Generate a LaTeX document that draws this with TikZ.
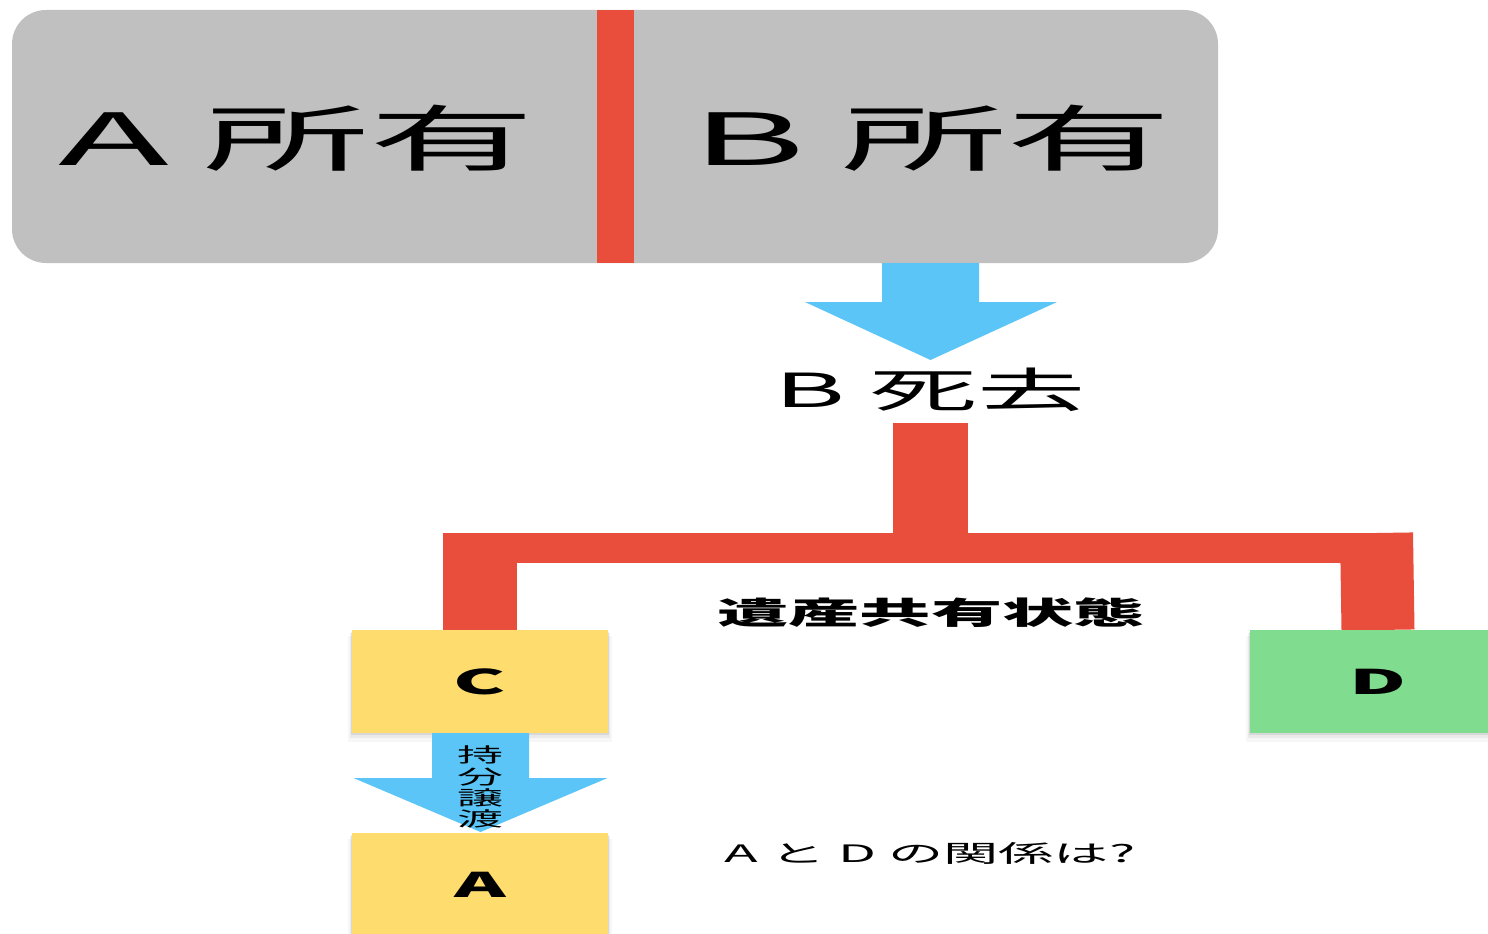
\documentclass[tikz,border=0pt]{standalone}
\usepackage{fontspec}
\newfontfamily\jp[FakeStretch=2.3]{Noto Sans CJK JP}
\usetikzlibrary{calc,shadows}
\definecolor{rd}{HTML}{E94E3D}
\definecolor{gy}{HTML}{C0C0C0}
\definecolor{bl}{HTML}{5BC5F7}
\definecolor{yl}{HTML}{FEDC6D}
\definecolor{gn}{HTML}{80DC8F}
\begin{document}
\begin{tikzpicture}[x=1pt,y=-1pt,
  every node/.style={inner sep=0pt,outer sep=0pt},
  txt/.style={font=\jp\fontsize{#1}{#1}\selectfont},
  softshadow/.style={
    drop shadow={shadow xshift=0pt,shadow yshift=-2pt,shadow scale=1.005,opacity=0.07,fill=black},
    drop shadow={shadow xshift=0pt,shadow yshift=-4pt,shadow scale=1.015,opacity=0.05,fill=black},
    drop shadow={shadow xshift=0pt,shadow yshift=-7pt,shadow scale=1.03,opacity=0.03,fill=black}},
  person/.style={minimum width=256pt,minimum height=103pt,softshadow,
    font=\jp\bfseries\fontsize{34}{34}\selectfont},
  redline/.style={draw=rd,line width=#1},
  blockarrow/.style={fill=bl}]
\clip (0,0) rectangle (1488,934);
\fill[white] (0,0) rectangle (1488,934);
% top box
\node[fill=gy,rounded corners=34pt,minimum width=1206pt,minimum height=253pt] (top) at (615,136.5) {};
\node[fill=rd,minimum width=37pt,minimum height=253pt] (div) at (615.5,136.5) {};
\node[txt=72] (aown) at (297,138) {\scalebox{1.1}[1]{A}\hspace{-3pt} 所有};
\node[txt=72] (bown) at (932,138) {\scalebox{1.05}[1]{B}\hspace{-2pt} 所有};
% blue arrow 1
\coordinate (a1) at (930.5,263);
\fill[blockarrow] ($(a1)+(-48.5,0)$) -- ($(a1)+(48.5,0)$) -- ($(a1)+(48.5,39)$) -- ($(a1)+(126.5,39)$)
  -- ($(a1)+(0,97)$) -- ($(a1)+(-125.5,39)$) -- ($(a1)+(-48.5,39)$) -- cycle;
\node[txt=47] (death) at (930,390) {B 死去};
% red tree
\coordinate (trunk) at (930.5,423);
\coordinate (fork) at (930.5,548);
\coordinate (lbar) at (443,548);
\coordinate (rbar) at (1413,548);
\coordinate (lleg) at (480,533);
\coordinate (rleg) at (1376.5,533);
\node[minimum width=256pt,minimum height=103pt] (Cpos) at (480,681.5) {};
\node[minimum width=256pt,minimum height=103pt] (Dpos) at (1378,681.5) {};
\draw[redline=75pt] (trunk) -- (fork);
\draw[redline=30pt] (lbar) -- (rbar);
\draw[redline=74pt] (lleg) -- (Cpos.north);
\draw[redline=73pt] (rleg) -- (Dpos.north);
\node[font=\jp\bfseries\fontsize{31}{31}\selectfont] (heir) at (931,613) {遺産共有状態};
% persons
\node[person,fill=yl] (C) at (480,681.5) {C};
\node[person,fill=gn] (D) at (1378,681.5) {D};
% blue arrow 2
\coordinate (a2) at (480.5,733);
\fill[blockarrow] ($(a2)+(-48.5,0)$) -- ($(a2)+(48.5,0)$) -- ($(a2)+(48.5,45)$) -- ($(a2)+(127,45)$)
  -- ($(a2)+(0,99)$) -- ($(a2)+(-127,45)$) -- ($(a2)+(-48.5,45)$) -- cycle;
\node[person,fill=yl] (A) at (480,884.5) {A};
\node[font=\jp\fontsize{20}{21.2}\selectfont,align=center] (transfer) at (480,787) {持\\分\\譲\\渡};
\node[txt=24] (q) at (930,853) {A と D の関係は?};
\end{tikzpicture}
\end{document}
